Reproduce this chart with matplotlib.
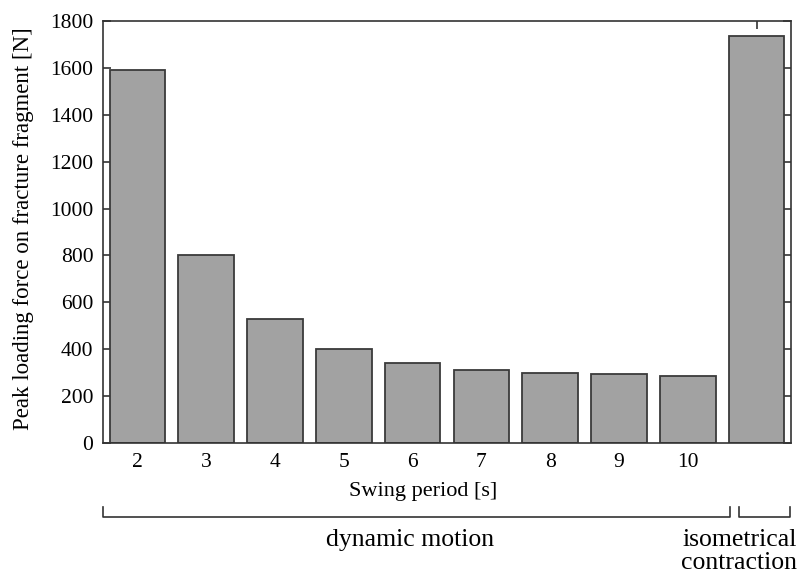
import matplotlib
matplotlib.use("Agg")
import matplotlib.pyplot as plt
import matplotlib.transforms as mtransforms

positions = [2, 3, 4, 5, 6, 7, 8, 9, 10, 11]
values = [1591, 803, 529, 401, 343, 313, 300, 293, 287, 1736]
xtick_pos = [2, 3, 4, 5, 6, 7, 8, 9, 10]
xtick_labels = ["2", "3", "4", "5", "6", "7", "8", "9", "10"]
yticks = [0, 200, 400, 600, 800, 1000, 1200, 1400, 1600, 1800]

plt.rcParams['font.family'] = ['Liberation Serif', 'DejaVu Serif']

fig = plt.figure(figsize=(8.01, 5.76), dpi=100)
ax = fig.add_axes([103/801, 1-443/576, (791-103)/801, (443-21)/576])

ax.bar(positions, values, width=0.81, color='#a2a2a2', edgecolor='#3a3a3a', linewidth=1.3, zorder=2)
ax.set_xlim(1.5, 11.5)
ax.set_ylim(0, 1800)
ax.set_yticks(yticks)
ax.set_xticks(xtick_pos)
ax.set_xticklabels(xtick_labels)
ax.tick_params(axis='both', direction='in', labelsize=15.5, length=6, width=1.2, color='#333333')
ax.tick_params(axis='y', right=True, pad=7)
ax.tick_params(axis='x', pad=7)
for s in ax.spines.values():
    s.set_linewidth(1.2)
    s.set_color('#333333')
    s.set_zorder(3)

# top tick at isometric bar
ax2 = ax.secondary_xaxis('top')
ax2.set_xticks([11])
ax2.set_xticklabels([])
ax2.tick_params(direction='in', length=6, width=1.2, color='#333333')
ax2.spines['top'].set_visible(False)

ax.set_ylabel("Peak loading force on fracture fragment [N]", fontsize=16.5)
ax.yaxis.set_label_coords(-0.101, 0.507)
ax.set_xlabel("Swing period [s]", fontsize=16)
ax.xaxis.set_label_coords(0.465, -0.093)

trans = mtransforms.blended_transform_factory(ax.transData, ax.transAxes)
yb = -0.1754
yt = -0.1517
lc = '#333333'
for x0, x1 in [(1.5, 10.62), (10.75, 11.48)]:
    ax.plot([x0, x0, x1, x1], [yt, yb, yb, yt], transform=trans, color=lc, lw=1.2, clip_on=False)

ax.text(5.97, -0.23, "dynamic motion", transform=trans, ha='center', va='center', fontsize=18.5)
ax.text(10.75, -0.23, "isometrical", transform=trans, ha='center', va='center', fontsize=18.5, clip_on=False)
ax.text(10.75, -0.284, "contraction", transform=trans, ha='center', va='center', fontsize=18.5, clip_on=False)

fig.savefig("out.png", dpi=100)
